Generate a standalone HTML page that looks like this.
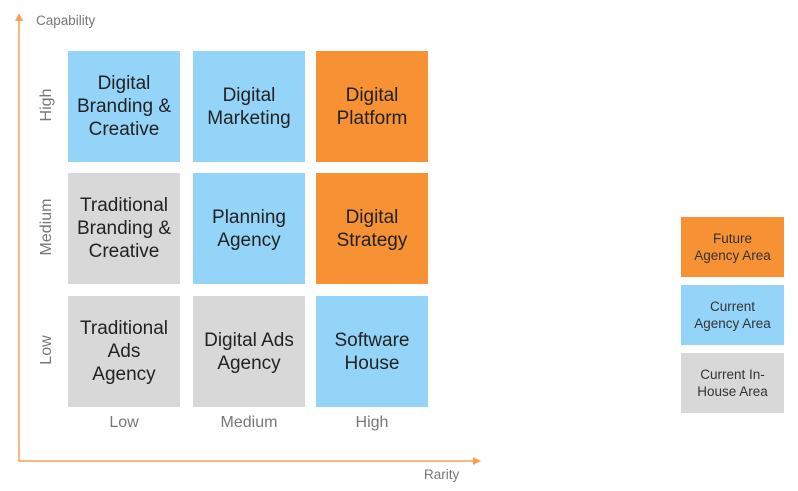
<!DOCTYPE html>
<html><head><style>
body{margin:0;width:798px;height:491px;background:#fff;position:relative;font-family:"Liberation Sans",Arial,sans-serif;overflow:hidden}
.b{position:absolute;display:flex;align-items:center;justify-content:center;text-align:center;color:#222;font-size:19px;line-height:23px}
.bl{background:#95d4f9}.gr{background:#d8d8d8}.or{background:#f79234}
.l{position:absolute;color:#777;font-size:16px}
.lg{position:absolute;display:flex;align-items:center;justify-content:center;text-align:center;color:#333;font-size:13.5px;line-height:17px;width:103px;height:60px;left:681px}
.r{position:absolute;color:#777;font-size:16px;transform:rotate(-90deg);transform-origin:center;width:80px;text-align:center}
</style></head><body>
<svg width="798" height="491" style="position:absolute;left:0;top:0">
<line x1="19" y1="461" x2="19" y2="20" stroke="#f7a050" stroke-width="1.5"/>
<polygon points="19,13 15,21 23,21" fill="#f7a050"/>
<line x1="19" y1="461" x2="474" y2="461" stroke="#f7a050" stroke-width="1.5"/>
<polygon points="481,461 473,457 473,465" fill="#f7a050"/>
</svg>
<div class="l" style="left:36px;top:13px;font-size:13.5px">Capability</div>
<div class="l" style="left:424px;top:467px;font-size:13.5px">Rarity</div>
<div class="r" style="left:7px;top:96px">High</div>
<div class="r" style="left:7px;top:218px">Medium</div>
<div class="r" style="left:7px;top:341px">Low</div>
<div class="b bl" style="left:68px;top:51px;width:112px;height:111px">Digital<br>Branding &amp;<br>Creative</div>
<div class="b bl" style="left:193px;top:51px;width:112px;height:111px">Digital<br>Marketing</div>
<div class="b or" style="left:316px;top:51px;width:112px;height:111px">Digital<br>Platform</div>
<div class="b gr" style="left:68px;top:173px;width:112px;height:111px">Traditional<br>Branding &amp;<br>Creative</div>
<div class="b bl" style="left:193px;top:173px;width:112px;height:111px">Planning<br>Agency</div>
<div class="b or" style="left:316px;top:173px;width:112px;height:111px">Digital<br>Strategy</div>
<div class="b gr" style="left:68px;top:296px;width:112px;height:111px">Traditional<br>Ads<br>Agency</div>
<div class="b gr" style="left:193px;top:296px;width:112px;height:111px">Digital Ads<br>Agency</div>
<div class="b bl" style="left:316px;top:296px;width:112px;height:111px">Software<br>House</div>
<div class="l" style="left:68px;width:112px;text-align:center;top:414px">Low</div>
<div class="l" style="left:193px;width:112px;text-align:center;top:414px">Medium</div>
<div class="l" style="left:316px;width:112px;text-align:center;top:414px">High</div>
<div class="lg or" style="top:217px">Future<br>Agency Area</div>
<div class="lg bl" style="top:285px">Current<br>Agency Area</div>
<div class="lg gr" style="top:353px">Current In-<br>House Area</div>
</body></html>
